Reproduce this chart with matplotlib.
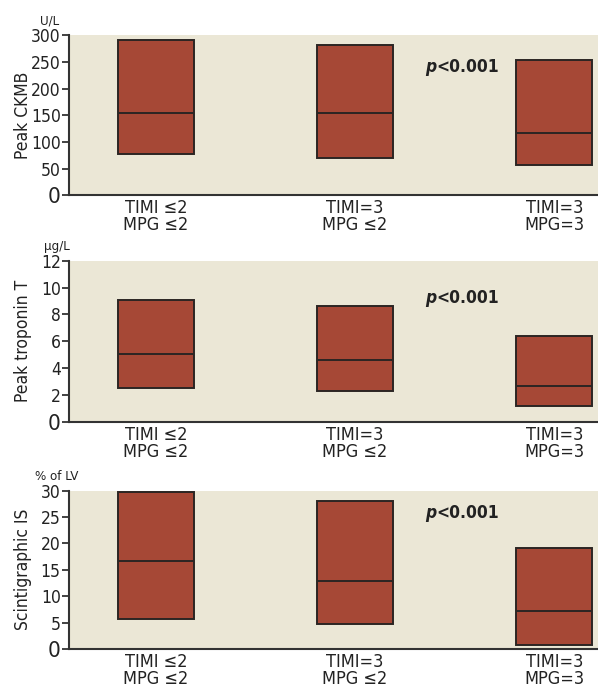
import numpy as np
import matplotlib
matplotlib.use("Agg")
import matplotlib.pyplot as plt

plt.rcParams['font.family'] = ['Liberation Sans Narrow', 'DejaVu Sans']
plt.rcParams['font.stretch'] = 'condensed'

# groups on the x axis
groups = ["TIMI \u22642\nMPG \u22642", "TIMI=3\nMPG \u22642", "TIMI=3\nMPG=3"]

# box values (low, median, high)
ckmb_low = [78, 69, 57]
ckmb_med = [154, 155, 116]
ckmb_high = [291, 282, 253]

tnt_low = [2.5, 2.3, 1.2]
tnt_med = [5.05, 4.6, 2.65]
tnt_high = [9.1, 8.65, 6.4]

is_low = [5.7, 4.8, 0.8]
is_med = [16.7, 12.9, 7.2]
is_high = [29.7, 28.0, 19.2]

panels = [
    ("Peak CKMB", "U/L", ckmb_low, ckmb_med, ckmb_high, [0, 50, 100, 150, 200, 250, 300], 0.80),
    ("Peak troponin T", "\u03bcg/L", tnt_low, tnt_med, tnt_high, [0, 2, 4, 6, 8, 10, 12], 0.77),
    ("Scintigraphic IS", "% of LV", is_low, is_med, is_high, [0, 5, 10, 15, 20, 25, 30], 0.86),
]
unit_dx = [-29, -25, -34]

bg = "#ebe7d6"
box_col = "#a64836"
edge = "#2b2523"
txt = "#222222"

fig = plt.figure(figsize=(5.98, 6.9), dpi=100)
# [left, bottom, width, height] in figure fractions
rects = [
    [0.1154, 0.717, 0.8846, 0.232],
    [0.1154, 0.389, 0.8846, 0.233],
    [0.1154, 0.0594, 0.8846, 0.2296],
]

x = np.arange(len(groups))
ptexts = []
for rect, (ylab, unit, lo, med, hi, ticks, py), dx in zip(rects, panels, unit_dx):
    ax = fig.add_axes(rect)
    ax.set_facecolor(bg)
    lo = np.array(lo)
    hi = np.array(hi)
    ax.bar(x, hi - lo, bottom=lo, width=0.38, color=box_col,
           edgecolor=edge, linewidth=1.4, zorder=3)
    ax.hlines(med, x - 0.19, x + 0.19, colors=edge, linewidth=1.4, zorder=4)

    ax.set_xlim(-0.437, 2.22)
    ax.set_ylim(ticks[0], ticks[-1])
    ax.set_yticks(ticks)
    ax.set_xticks(x)
    ax.set_xticklabels(groups, fontsize=13, linespacing=0.92, color=txt)
    ax.tick_params(axis='x', length=0, pad=3)
    ax.tick_params(axis='y', length=5, width=1.2, pad=1, labelsize=12.5,
                   colors=txt)
    labels = ax.get_yticklabels()
    labels[0].set_fontsize(16)
    for s in ["top", "right"]:
        ax.spines[s].set_visible(False)
    for s in ["left", "bottom"]:
        ax.spines[s].set_linewidth(1.5)
        ax.spines[s].set_color("#333333")

    ax.set_ylabel(ylab, fontsize=12.5, color=txt)
    ax.yaxis.set_label_coords(-0.07, 0.5)

    ax.annotate(unit, xy=(0, 1), xycoords='axes fraction',
                xytext=(dx, 14), textcoords='offset pixels',
                fontsize=9.5, ha='left', va='center', color=txt)

    t = ax.text(1.35, py, "p", transform=ax.get_xaxis_transform(),
                fontsize=12.5, fontweight='bold', fontstyle='italic',
                ha='left', va='center', color=txt)
    ptexts.append((ax, t, py))

# put "<0.001" right after the italic p
fig.canvas.draw()
r = fig.canvas.get_renderer()
for ax, t, py in ptexts:
    w = t.get_window_extent(renderer=r).width
    ax.annotate("<0.001", xy=(1.35, py), xycoords=ax.get_xaxis_transform(),
                xytext=(w, 0), textcoords='offset pixels',
                fontsize=12.5, fontweight='bold', ha='left', va='center',
                color=txt)

fig.savefig("out.png", dpi=100)
